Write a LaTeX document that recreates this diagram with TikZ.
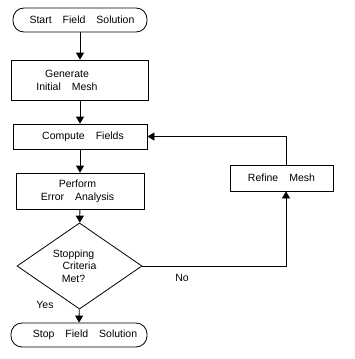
\documentclass[tikz,border=0pt]{standalone}
\usepackage{fontspec}
\setmainfont{Liberation Sans}
\usepackage{tikz}
\usetikzlibrary{arrows.meta,shapes.geometric}
\newcommand{\gp}{\hspace{11pt}}
\tikzset{
  wire/.style={line width=0.8pt},
  flow/.style={wire,-{Triangle[length=7pt,width=8pt]}},
  term/.style={draw, wire, rounded corners=11pt, inner sep=0pt, font=\fontsize{10.5}{13}\selectfont},
  box/.style={draw, wire, inner sep=0pt, align=center, font=\fontsize{10.5}{13}\selectfont},
  test/.style={draw, wire, diamond, inner sep=0pt, align=center, font=\fontsize{10.5}{12.5}\selectfont},
  lbl/.style={font=\fontsize{10.5}{13}\selectfont}
}
\begin{document}
\begin{tikzpicture}[x=1pt,y=-1pt]
  \useasboundingbox (0,0) rectangle (355,359);
  \node[term, minimum width=134pt, minimum height=24pt] (start) at (80,20) {\hspace*{4pt}Start\gp Field\gp Solution};
  \node[box, minimum width=137pt, minimum height=40pt] (gen) at (80,80) {Generate\hspace*{26pt}\\Initial\gp Mesh\hspace*{26pt}};
  \node[box, minimum width=134pt, minimum height=25pt] (comp) at (80,136.5) {\hspace*{6pt}Compute\gp Fields};
  \node[box, minimum width=128pt, minimum height=36pt] (perf) at (80,191) {Perform\hspace*{5pt}\\Error\gp Analysis\hspace*{5pt}};
  \node[test, minimum width=125pt, minimum height=60pt] (check) at (79.5,266) {Stopping\hspace*{12pt}\\Criteria\hspace*{12pt}\\Met?\hspace*{12pt}};
  \node[term, minimum width=136pt, minimum height=24pt] (stop) at (79,335) {\hspace*{12pt}Stop\gp Field\gp Solution};
  \node[box, minimum width=103pt, minimum height=26pt] (refine) at (281.5,178) {Refine\gp Mesh};
  \node[lbl] (no) at (182,278) {No};
  \node[lbl] (yes) at (45,305) {Yes};
  % main line
  \draw[flow] (start) -- (gen);
  \draw[flow] (gen) -- (comp);
  \draw[flow] (comp) -- (perf);
  \draw[flow] (perf) -- (check);
  \draw[flow] (check) -- (stop);
  % loop back through refine
  \draw[flow] (check.east) -| ([xshift=4.5pt]refine.south);
  \draw[flow] ([xshift=4.5pt]refine.north) |- (comp.east);
\end{tikzpicture}
\end{document}
